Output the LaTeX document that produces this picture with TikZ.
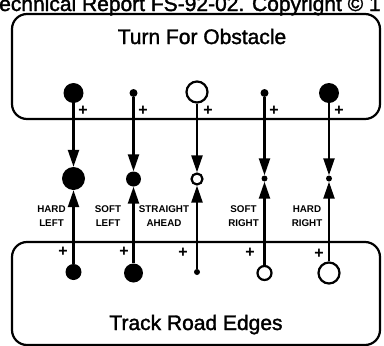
\documentclass[tikz,border=0pt]{standalone}
\usepackage{fontspec}
\setmainfont{Liberation Sans}
\newfontfamily\heavysans[FakeBold=1.6]{Liberation Sans}
\usetikzlibrary{arrows.meta}
\begin{document}
\begin{tikzpicture}[x=1pt,y=-1pt,
  fdot/.style={circle,fill=black,draw=none,inner sep=0pt,minimum size=#1},
  odot/.style={circle,draw=black,line width=2.2pt,fill=white,inner sep=0pt,minimum size=#1},
  link/.style={line width=2.3pt,-{Triangle[length=17pt,width=11pt]}},
  boxst/.style={draw,line width=2.2pt,rounded corners=15pt,inner sep=0pt},
  plus/.style={font=\fontsize{16}{16}\selectfont\bfseries,inner sep=0pt},
  lab/.style={font=\fontsize{9.8}{14}\selectfont\bfseries,align=center,inner sep=0pt},
  title/.style={font=\fontsize{21}{21}\heavysans\selectfont,inner sep=0pt,anchor=base},
]
\useasboundingbox (0,0) rectangle (384,346);
\clip (0,0) rectangle (384,346);

\node[title,anchor=base west] (hdr) at (-1,11) {echnical Report FS-92-02. Copyright © 1};

% boxes
\node[boxst,minimum width=368pt,minimum height=105pt] (topbox) at (196,66.5) {};
\node[boxst,minimum width=368pt,minimum height=103pt] (botbox) at (196,293.5) {};
\node[title] (toptitle) at (202,44) {Turn For Obstacle};
\node[title] (bottitle) at (196,330) {Track Road Edges};

% top circles
\node[fdot=20pt] (t1) at (73.5,93) {};
\node[fdot=8pt]  (t2) at (133.5,93) {};
\node[odot=21pt] (t3) at (197,92) {};
\node[fdot=8pt]  (t4) at (264.5,93) {};
\node[fdot=20pt] (t5) at (329,93) {};

% middle circles
\node[fdot=23pt] (m1) at (73.5,178.5) {};
\node[fdot=15pt] (m2) at (133.5,179) {};
\node[odot=11pt] (m3) at (197,179) {};
\node[fdot=6pt]  (m4) at (264.5,178.5) {};
\node[fdot=6pt]  (m5) at (329,178.5) {};

% bottom circles
\node[fdot=16pt] (b1) at (73.5,272) {};
\node[fdot=19pt] (b2) at (133.5,273) {};
\node[fdot=6pt]  (b3) at (197,272) {};
\node[odot=14pt] (b4) at (264.5,273) {};
\node[odot=21pt] (b5) at (329,273) {};

% connectors
\foreach \i in {1,...,5}{
  \draw[link] (t\i) -- (m\i);
  \draw[link] (b\i) -- (m\i);
}

% plus signs
\node[plus] (pt1) at (83,111) {+};
\node[plus] (pt2) at (143,111) {+};
\node[plus] (pt3) at (208,111) {+};
\node[plus] (pt4) at (274,111) {+};
\node[plus] (pt5) at (339,111) {+};
\node[plus] (pb1) at (63,252) {+};
\node[plus] (pb2) at (124,252) {+};
\node[plus] (pb3) at (183,252.5) {+};
\node[plus] (pb4) at (250,252.5) {+};
\node[plus] (pb5) at (319,254) {+};

% labels
\node[lab] (l1) at (51.5,216) {HARD\\LEFT};
\node[lab] (l2) at (108,216) {SOFT\\LEFT};
\node[lab] (l3) at (164,216) {STRAIGHT\\AHEAD};
\node[lab] (l4) at (243.5,216) {SOFT\\RIGHT};
\node[lab] (l5) at (307,216) {HARD\\RIGHT};
\end{tikzpicture}
\end{document}
